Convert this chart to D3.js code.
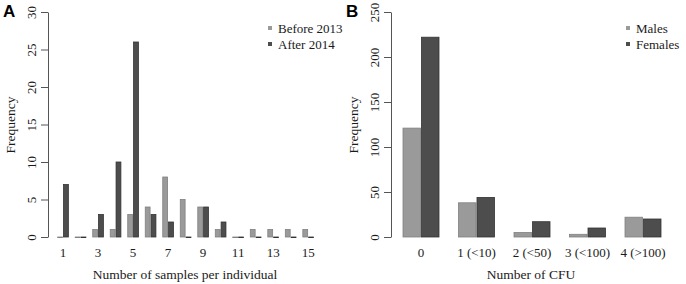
<!DOCTYPE html>
<html>
<head>
<meta charset="utf-8">
<script src="https://cdn.jsdelivr.net/npm/d3@7"></script>
<style>
  body { margin: 0; background: #fff; }
  text { font-family: "Liberation Serif", "Times New Roman", serif; fill: #1a1a1a; }
</style>
</head>
<body>
<div id="chart-area"></div>
<script>
// DATA
// ****

// panel A : samples per individual
const samples = d3.range(1, 16)
const sampleTicks = [1, 3, 5, 7, 9, 11, 13, 15]
const before2013 = [0, 0, 1, 1, 3, 4, 8, 5, 4, 1, 0, 1, 1, 1, 1]
const after2014 = [7, 0, 3, 10, 26, 3, 2, 0, 4, 2, 0, 0, 0, 0, 0]
const freqTicksA = [0, 5, 10, 15, 20, 25, 30]

// panel B : CFU classes
const cfu = ["0", "1 (<10)", "2 (<50)", "3 (<100)", "4 (>100)"]
const males = [121, 38, 5, 3, 22]
const females = [222, 44, 17, 10, 20]
const freqTicksB = [0, 50, 100, 150, 200, 250]

const W = 686, H = 284
const svg = d3.select("#chart-area").append("svg").attr("width", W).attr("height", H)

const fills = ["#9a9a9a", "#4d4d4d"]
const strokes = ["#808080", "#333333"]

function panel(opt) {
  const g = svg.append("g")

  // x => band of groups, then band of series inside
  const x0 = d3.scaleBand().domain(opt.cats).range(opt.xr).paddingInner(1 / 3).paddingOuter(0)
  const x1 = d3.scaleBand().domain([0, 1]).range([0, x0.bandwidth()])
  const y = d3.scaleLinear().domain([0, d3.max(opt.yticks)]).range([237, 12])

  const rows = opt.cats.map((c, i) => ({ cat: c, vals: opt.series.map(s => s[i]) }))

  g.selectAll("g.grp").data(rows).enter()
    .append("g").attr("class", "grp")
    .attr("transform", d => `translate(${x0(d.cat)},0)`)
    .selectAll("rect").data(d => d.vals).enter()
    .append("rect")
    .attr("x", (d, i) => x1(i) + 0.5)
    .attr("y", d => y(d))
    .attr("width", x1.bandwidth() - 1)
    .attr("height", d => Math.max(0.6, y(0) - y(d)))
    .attr("fill", (d, i) => fills[i])
    .attr("stroke", (d, i) => strokes[i])
    .attr("stroke-width", 0.8)

  // y axis
  const ax = g.append("g")
    .attr("transform", `translate(${opt.axisX},0)`)
    .call(d3.axisLeft(y).tickValues(opt.yticks).tickSize(7).tickSizeOuter(0).tickPadding(0))
  ax.select(".domain").attr("stroke", "#555")
  ax.selectAll(".tick line").attr("stroke", "#555")
  ax.selectAll(".tick text")
    .attr("font-size", 13)
    .attr("text-anchor", "middle")
    .attr("x", 0).attr("dy", 0)
    .attr("transform", "translate(-12,0) rotate(-90)")
    .style("font-family", "Liberation Serif")

  // x tick labels
  g.selectAll("text.xt").data(opt.xlabels).enter()
    .append("text").attr("class", "xt")
    .attr("x", d => x0(d) + x0.bandwidth() / 2)
    .attr("y", 257)
    .attr("text-anchor", "middle")
    .attr("font-size", 13)
    .text(d => d)

  g.append("text")
    .attr("x", opt.titleX).attr("y", 279)
    .attr("text-anchor", "middle").attr("font-size", 13.5)
    .text(opt.xtitle)

  g.append("text")
    .attr("transform", `translate(${opt.axisX - 33},125) rotate(-90)`)
    .attr("text-anchor", "middle").attr("font-size", 13.5)
    .text("Frequency")

  g.append("text")
    .attr("x", opt.letterX).attr("y", 17)
    .style("font-family", "'Liberation Sans', Arial, sans-serif")
    .attr("font-weight", "bold").attr("font-size", 17)
    .style("fill", "#000")
    .text(opt.letter)

  // legend
  const lg = g.append("g").attr("transform", `translate(${opt.legX},0)`)
  opt.names.forEach((n, i) => {
    lg.append("rect").attr("x", 0).attr("y", 26 + i * 16).attr("width", 4).attr("height", 4)
      .attr("fill", fills[i])
    lg.append("text").attr("x", 10).attr("y", 33 + i * 16).attr("font-size", 13).text(n)
  })
}

panel({
  cats: samples, xlabels: sampleTicks, series: [before2013, after2014],
  xr: [57.2, 314], yticks: freqTicksA, axisX: 48,
  xtitle: "Number of samples per individual", titleX: 185,
  letter: "A", letterX: 3, legX: 268, names: ["Before 2013", "After 2014"]
})

panel({
  cats: cfu, xlabels: cfu, series: [males, females],
  xr: [402.5, 661.5], yticks: freqTicksB, axisX: 391,
  xtitle: "Number of CFU", titleX: 531,
  letter: "B", letterX: 346, legX: 626, names: ["Males", "Females"]
})
</script>
</body>
</html>
